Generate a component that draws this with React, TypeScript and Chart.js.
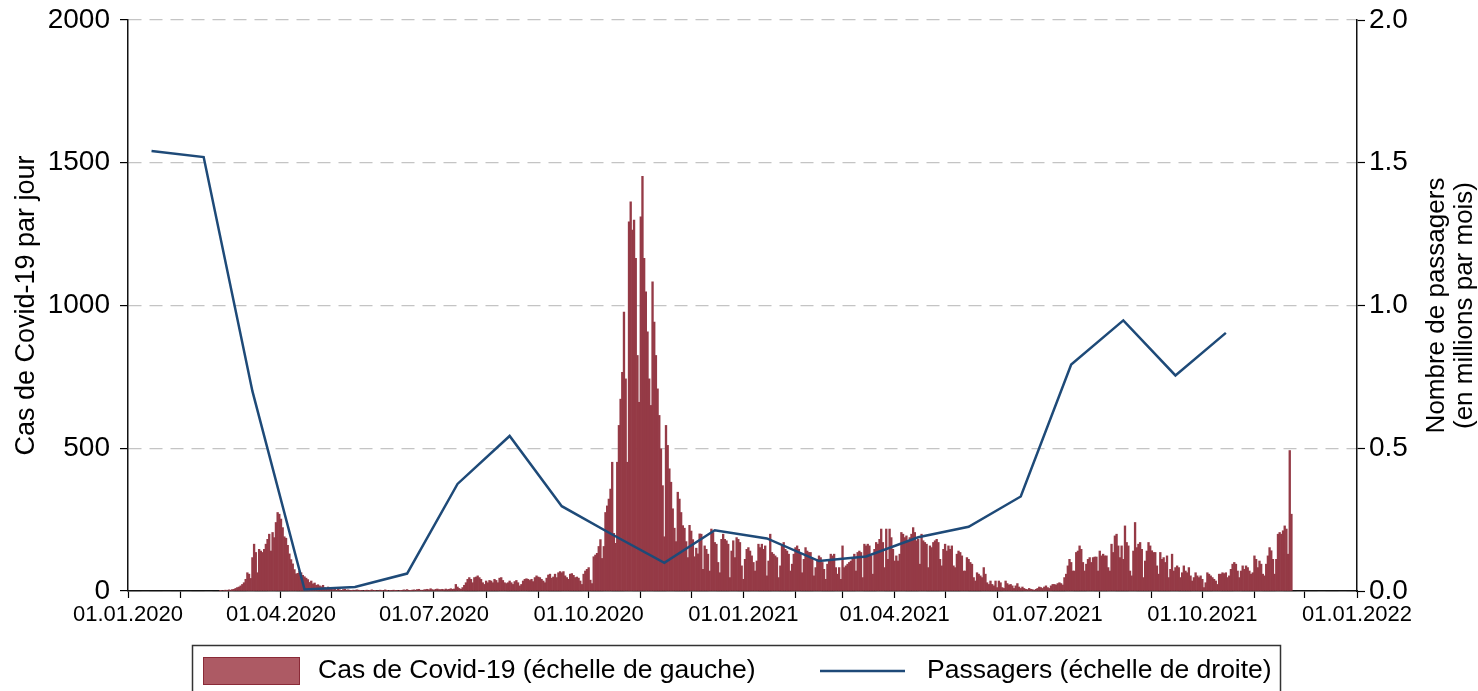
import React, { useEffect, useRef } from 'react';
import { Chart, registerables } from 'chart.js';

Chart.register(...registerables);

// ---- Data (x = days since 01.01.2020) ----
const casesFirstDay = 55; // 25.02.2020
const casesSpring2020 = [
  1, 0, 2, 3, 2, 4, 3, 5, 6,
  9, 12, 14, 18, 23, 29, 41,
  64, 59, 44, 117, 164, 135, 64,
  146, 140, 135, 146, 164, 181, 199,
  140, 205, 187, 240, 275, 269, 252,
  222, 190, 185, 160, 130, 110, 95,
  75, 60, 62, 70, 64, 55, 50,
  45, 40, 30, 35, 25, 28, 20,
  22, 18, 15, 20, 12, 10, 14, 9,
];
const casesSummer2020 = [
  8, 5, 6, 3, 7, 4, 2, 5, 6, 3, 4, 2, 1, 3, 2, 4, 3, 1, 2, 0, 1,
  3, 2, 1, 4, 2, 1, 0, 2, 3, 1, 2, 4, 1, 0, 1, 2, 3, 1, 2, 0, 1,
  2, 4, 3, 5, 2, 1, 3, 4, 3, 5, 6, 3, 2, 4, 5, 6, 4, 8, 5, 3, 6, 7, 5,
  5, 6, 4, 7, 5, 6, 8, 6, 7,
  23, 14, 9, 6, 12, 20, 29, 41, 47, 41,
  29, 47, 49, 53, 47, 41, 29, 23, 35, 29,
  37, 35, 29, 41, 37, 29, 45, 47, 37, 29,
  26, 29, 35, 29, 23, 33, 37, 29, 18, 23,
  35, 41, 43, 41, 37, 41, 33, 47, 53, 49,
  47, 41, 35, 29, 45, 56, 59, 45, 49, 59,
  47, 64, 68, 64, 68, 53, 47, 41, 59, 61,
  55, 47, 49, 45, 35, 23, 59,
];
const casesAutumn2020 = [
  70, 76, 82, 38, 26, 120, 126, 132, 156, 180,
  114, 156, 275, 298, 322, 357, 451, 202, 167, 451,
  580, 672, 766, 977, 743, 451, 1293, 1363, 1264, 1299,
  1165, 825, 661, 1311, 1452, 1165, 1048, 908, 743, 650,
  1083, 942, 825, 708, 615, 498, 369, 190, 580, 510,
  428, 381, 288, 220, 173, 346, 322, 275, 229, 220,
  173, 117, 230, 210, 180, 120, 150, 130, 200,
];
const casesWinter2021 = [
  199, 76, 158, 146, 129, 70, 217, 205, 170, 164,
  100, 64, 181, 199, 181, 176, 164, 47, 140, 176,
  117, 187, 181, 170, 88, 41, 111, 146, 152, 140,
  123, 100, 70, 105, 164, 152, 164, 146, 158, 53,
  105, 199, 135, 129, 123, 117, 47, 88, 158, 170,
  146, 140, 129, 70, 94, 129, 152, 158, 146, 129,
  64, 111, 152, 140, 135, 135, 111, 53, 82, 111,
  123, 117, 100, 76, 41, 94, 105, 129, 123, 129,
  82, 59, 82, 41, 158, 82, 88, 94, 100,
];
const casesSpring2021 = [
  105, 111, 129, 70, 135, 140, 135, 47, 164, 158,
  164, 158, 123, 59, 146, 170, 164, 181, 217, 170,
  82, 217, 111, 217, 187, 146, 105, 123, 105, 129,
  205, 199, 187, 193, 176, 187, 199, 222, 205, 176,
  181, 94, 199, 176, 170, 164, 82, 158, 152, 170,
  176, 181, 170, 111, 88, 146, 164, 140, 158, 146,
  158, 88, 82, 129, 140, 135, 123, 70, 70, 117,
  111, 100, 94, 47, 35, 64, 59, 53, 47, 82,
  59, 29, 23, 35, 23, 18, 35, 12, 35, 29,
  12, 9,
];
const casesSummer2021 = [
  35, 26, 21, 23, 18, 9, 18, 26, 14, 9,
  14, 9, 6, 5, 9, 6, 5, 2, 6, 9,
  14, 12, 9, 14, 18, 12, 9, 18, 23, 23,
  21, 26, 29, 26, 21, 47, 59, 88, 111, 100,
  70, 70, 135, 140, 158, 146, 100, 70, 94, 111,
  117, 100, 117, 119, 119, 70, 140, 123, 129, 123,
  123, 82, 70, 164, 135, 193, 199, 158, 117, 158,
  111, 228, 170, 158, 70, 53, 140, 240, 152, 164,
  170, 146, 47, 105, 140, 170, 158,
];
const casesAutumn2021 = [
  141, 135, 135, 88, 59, 135, 111, 117, 100, 123,
  47, 76, 129, 70, 82, 88, 82, 47, 64, 88,
  70, 64, 82, 53, 35, 47, 64, 53, 47, 53,
  41, 12, 29, 64, 59, 53, 47, 41, 35, 23,
  59, 59, 64, 61, 64, 47, 53, 76, 94, 100,
  94, 70, 47, 70, 88, 76, 88, 82, 70, 59,
  64, 123, 111, 82, 105, 94, 59, 53, 94, 123,
  152, 141, 111, 59, 111, 199, 205, 199, 211, 228,
  217, 129, 492, 269,
];

// Passengers (millions per month), plotted mid-month
const passengerDays = [14, 45, 74, 105, 135, 166, 196, 227, 258, 288, 319, 349, 380, 411, 439, 470, 500, 531, 561, 592, 623, 653];
const passengerValues = [1.541, 1.52, 0.7, 0.005, 0.014, 0.061, 0.375, 0.543, 0.297, 0.198, 0.099, 0.213, 0.184, 0.105, 0.121, 0.188, 0.225, 0.331, 0.793, 0.948, 0.755, 0.904];

// Axes
const xMonthTickDays = [0, 31, 60, 91, 121, 152, 182, 213, 244, 274, 305, 335, 366, 397, 425, 456, 486, 517, 547, 578, 609, 639, 670, 700, 731];
const xLabelDays = [0, 91, 182, 274, 366, 456, 547, 639, 731];
const xLabelTexts = ['01.01.2020', '01.04.2020', '01.07.2020', '01.10.2020', '01.01.2021', '01.04.2021', '01.07.2021', '01.10.2021', '01.01.2022'];
const leftTicks = [0, 500, 1000, 1500, 2000];
const rightTicks = [0, 0.5, 1.0, 1.5, 2.0];

const leftTitle = 'Cas de Covid-19 par jour';
const rightTitle = ['Nombre de passagers', '(en millions par mois)'];
const legendCases = 'Cas de Covid-19 (échelle de gauche)';
const legendPassengers = 'Passagers (échelle de droite)';

const FONT = "'Liberation Sans', Arial, sans-serif";
const BAR_COLOR = '#953a46';
const LINE_COLOR = '#1e4a78';

export default function App() {
  const ref = useRef<HTMLCanvasElement | null>(null);

  useEffect(() => {
    document.body.style.margin = '0';
    const canvas = ref.current;
    if (!canvas) return;

    const allCases = [
      ...casesSpring2020, ...casesSummer2020, ...casesAutumn2020, ...casesWinter2021,
      ...casesSpring2021, ...casesSummer2021, ...casesAutumn2021,
    ];
    const caseData = allCases.map((v, i) => ({ x: casesFirstDay + i, y: v }));
    const paxData = passengerDays.map((d, i) => ({ x: d, y: passengerValues[i] }));

    const decor = {
      id: 'decor',
      afterDraw(chart: any) {
        const ctx = chart.ctx;
        const area = chart.chartArea;
        const cy = (area.top + area.bottom) / 2;
        ctx.save();
        ctx.fillStyle = '#000';
        ctx.textAlign = 'center';
        ctx.textBaseline = 'middle';
        ctx.font = `27px ${FONT}`;
        // left title
        ctx.save();
        ctx.translate(27, cy);
        ctx.rotate(-Math.PI / 2);
        ctx.fillText(leftTitle, 0, 0);
        ctx.restore();
        // right title
        ctx.save();
        ctx.translate(1437, cy);
        ctx.rotate(-Math.PI / 2);
        ctx.font = `26px ${FONT}`;
        ctx.fillText(rightTitle[0], 0, 0);
        ctx.fillText(rightTitle[1], 0, 28);
        ctx.restore();
        // legend box
        ctx.strokeStyle = '#333';
        ctx.lineWidth = 1.5;
        ctx.strokeRect(192.5, 645.5, 1088, 60);
        ctx.fillStyle = '#ad5a64';
        ctx.fillRect(203, 657, 97, 28);
        ctx.strokeStyle = '#8a2a37';
        ctx.lineWidth = 1;
        ctx.strokeRect(203.5, 657.5, 96, 27);
        ctx.fillStyle = '#000';
        ctx.textAlign = 'left';
        ctx.font = `26.5px ${FONT}`;
        ctx.fillText(legendCases, 318, 671);
        ctx.strokeStyle = LINE_COLOR;
        ctx.lineWidth = 2.5;
        ctx.beginPath();
        ctx.moveTo(820, 671);
        ctx.lineTo(905, 671);
        ctx.stroke();
        ctx.fillText(legendPassengers, 927, 671);
        ctx.restore();
      },
    };

    const noVerticalPadding = (scale: any, width: number) => {
      scale.width = width;
      scale.paddingTop = 0;
      scale.paddingBottom = 0;
    };

    const chart = new Chart(canvas, {
      type: 'bar',
      data: {
        datasets: [
          {
            type: 'line',
            label: legendPassengers,
            data: paxData,
            yAxisID: 'y1',
            xAxisID: 'x',
            borderColor: LINE_COLOR,
            borderWidth: 2.5,
            pointRadius: 0,
            tension: 0,
            order: 0,
          } as any,
          {
            type: 'bar',
            label: legendCases,
            data: caseData,
            yAxisID: 'y',
            xAxisID: 'x',
            backgroundColor: BAR_COLOR,
            borderWidth: 0,
            barPercentage: 1,
            categoryPercentage: 1,
            order: 1,
          } as any,
        ],
      },
      options: {
        animation: false,
        responsive: false,
        devicePixelRatio: 1,
        layout: { padding: { top: 20, left: 0, right: 0, bottom: 0 } },
        plugins: { legend: { display: false }, tooltip: { enabled: false } },
        scales: {
          x: {
            type: 'linear',
            min: 0,
            max: 731,
            offset: false,
            afterBuildTicks: (scale: any) => {
              scale.ticks = xMonthTickDays.map((v) => ({ value: v }));
            },
            afterFit: (scale: any) => {
              scale.height = 100;
              scale.paddingLeft = 0;
              scale.paddingRight = 0;
            },
            ticks: {
              autoSkip: false,
              maxRotation: 0,
              minRotation: 0,
              padding: 4,
              color: '#000',
              font: { family: FONT, size: 22 },
              callback: (v: any) => {
                const idx = xLabelDays.indexOf(Number(v));
                return idx >= 0 ? xLabelTexts[idx] : '';
              },
            },
            grid: { offset: false, drawOnChartArea: false, drawTicks: true, tickLength: 7, tickColor: '#000', tickWidth: 1.2 },
            border: { display: true, color: '#111', width: 1.5 },
          },
          y: {
            type: 'linear',
            position: 'left',
            min: 0,
            max: 2000,
            afterBuildTicks: (scale: any) => {
              scale.ticks = leftTicks.map((v) => ({ value: v }));
            },
            afterFit: (scale: any) => noVerticalPadding(scale, 128),
            ticks: {
              padding: 10,
              color: '#000',
              font: { family: FONT, size: 28 },
              callback: (v: any) => String(v),
            },
            grid: { offset: false, color: '#c4c4c4', lineWidth: 1.2, drawTicks: true, tickLength: 8, tickColor: '#000', tickWidth: 1.2 },
            border: { display: true, color: '#111', width: 1.5, dash: [13, 8] },
          },
          y1: {
            type: 'linear',
            position: 'right',
            min: 0,
            max: 2,
            afterBuildTicks: (scale: any) => {
              scale.ticks = rightTicks.map((v) => ({ value: v }));
            },
            afterFit: (scale: any) => noVerticalPadding(scale, 121),
            ticks: {
              padding: 4,
              color: '#000',
              font: { family: FONT, size: 28 },
              callback: (v: any) => Number(v).toFixed(1),
            },
            grid: { offset: false, drawOnChartArea: false, drawTicks: true, tickLength: 8, tickColor: '#000', tickWidth: 1.2 },
            border: { display: true, color: '#111', width: 1.5 },
          },
        },
      },
      plugins: [decor],
    });

    return () => chart.destroy();
  }, []);

  return (
    <div style={{ width: 1478, height: 691 }}>
      <canvas ref={ref} width={1478} height={691} style={{ display: 'block' }} />
    </div>
  );
}
